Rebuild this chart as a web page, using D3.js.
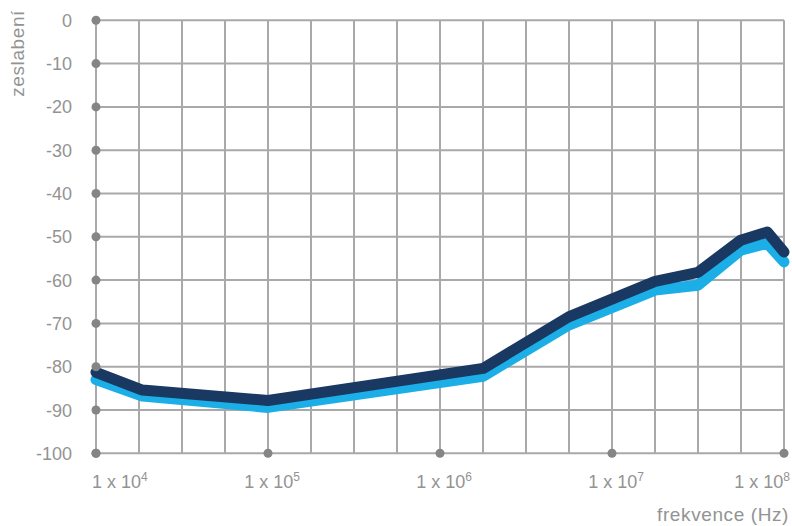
<!DOCTYPE html>
<html>
<head>
<meta charset="utf-8">
<script src="https://cdn.jsdelivr.net/npm/d3@7"></script>
<style>
  body { margin: 0; background: #fff; }
  text { font-family: "Liberation Sans", Arial, sans-serif; fill: #939393; }
</style>
</head>
<body>
<svg id="chart"></svg>
<script>
// frequency points (Hz)
const freqs = [1e4, 1.86e4, 1e5, 1.78e6, 5.6e6, 1.78e7, 3.16e7, 5.6e7, 8e7, 1e8];
const darkSeries = [-81.3, -85.4, -87.8, -80.4, -68.5, -60.3, -58.2, -50.8, -48.9, -53.5];
const lightSeries = [-83.0, -86.8, -89.4, -82.2, -70.4, -62.3, -61.2, -53.1, -51.5, -55.8];
const yTicks = [0, -10, -20, -30, -40, -50, -60, -70, -80, -90, -100];
const xTickExps = [4, 5, 6, 7, 8];

const width = 792, height = 526;
const margin = {top: 20.3, right: 8, bottom: 72.7, left: 96};

const svg = d3.select("#chart")
    .attr("width", width)
    .attr("height", height);

const x = d3.scaleLog()
    .domain([1e4, 1e8])
    .range([margin.left, width - margin.right]);
const y = d3.scaleLinear()
    .domain([-100, 0])
    .range([height - margin.bottom, margin.top]);

// grid: quarter-decade vertical lines
const xGrid = d3.range(0, 17).map(k => Math.pow(10, 4 + k / 4));
svg.append("g")
    .selectAll("line")
    .data(xGrid)
    .join("line")
    .attr("x1", d => x(d)).attr("x2", d => x(d))
    .attr("y1", y(0)).attr("y2", y(-100))
    .attr("stroke", "#a9a9a9")
    .attr("stroke-width", 2);

svg.append("g")
    .selectAll("line")
    .data(yTicks)
    .join("line")
    .attr("x1", x(1e4)).attr("x2", x(1e8))
    .attr("y1", d => y(d)).attr("y2", d => y(d))
    .attr("stroke", "#a9a9a9")
    .attr("stroke-width", 2);

// lines
const line = d3.line()
    .x((d, i) => x(freqs[i]))
    .y(d => y(d));

svg.append("path")
    .datum(lightSeries)
    .attr("d", line)
    .attr("fill", "none")
    .attr("stroke", "#1caee6")
    .attr("stroke-width", 11)
    .attr("stroke-linejoin", "round")
    .attr("stroke-linecap", "round");

svg.append("path")
    .datum(darkSeries)
    .attr("d", line)
    .attr("fill", "none")
    .attr("stroke", "#193862")
    .attr("stroke-width", 11)
    .attr("stroke-linejoin", "round")
    .attr("stroke-linecap", "round");

// tick dots
svg.append("g")
    .selectAll("circle")
    .data(yTicks)
    .join("circle")
    .attr("cx", x(1e4))
    .attr("cy", d => y(d))
    .attr("r", 4.5)
    .attr("fill", "#858585");

svg.append("g")
    .selectAll("circle")
    .data(xTickExps)
    .join("circle")
    .attr("cx", d => x(Math.pow(10, d)))
    .attr("cy", y(-100))
    .attr("r", 4.5)
    .attr("fill", "#858585");

// y tick labels
svg.append("g")
    .selectAll("text")
    .data(yTicks)
    .join("text")
    .attr("x", 72)
    .attr("y", d => y(d) + 6.5)
    .attr("text-anchor", "end")
    .style("font-size", "18px")
    .text(d => d);

// x tick labels: "1 x 10^n"
const xl = svg.append("g")
    .selectAll("text")
    .data(xTickExps)
    .join("text")
    .attr("y", 488)
    .style("font-size", "18px");
xl.append("tspan").text("1 x 10");
xl.append("tspan")
    .attr("dy", -7)
    .style("font-size", "12px")
    .text(d => d);
xl.each(function (d) {
    const w = this.getComputedTextLength();
    let cx = x(Math.pow(10, d)) - w / 2 + 4;
    cx = Math.max(92, Math.min(cx, 790 - w));
    d3.select(this).attr("x", cx);
});

// axis titles
svg.append("text")
    .attr("transform", "translate(24,10) rotate(-90)")
    .attr("text-anchor", "end")
    .style("font-size", "19px")
    .style("letter-spacing", "0.6px")
    .text("zeslabení");

svg.append("text")
    .attr("x", 789)
    .attr("y", 521)
    .attr("text-anchor", "end")
    .style("font-size", "19px")
    .style("letter-spacing", "0.6px")
    .text("frekvence (Hz)");
</script>
</body>
</html>
